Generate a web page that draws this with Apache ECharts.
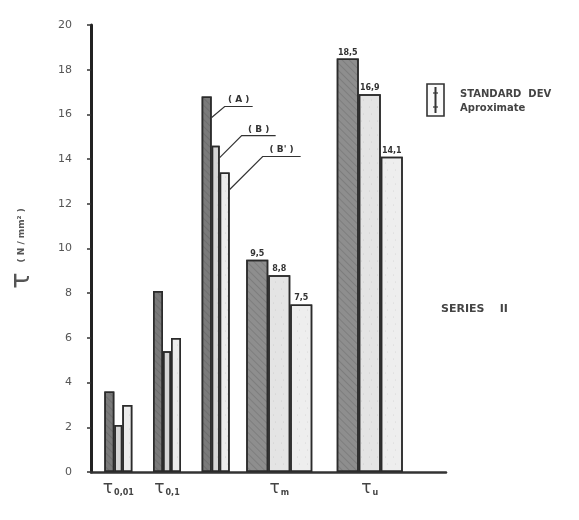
<!DOCTYPE html>
<html>
<head>
<meta charset="utf-8">
<script src="https://cdn.jsdelivr.net/npm/echarts@6/dist/echarts.min.js"></script>
<style>
  html, body { margin: 0; padding: 0; background: #fff; }
  #chart { width: 579px; height: 520px; }
</style>
</head>
<body>
<div id="chart"></div>
<script>
// Shear strength groups (left block: narrow bars, right block: wide bars)
const narrowCats = ['0,01', '0,1', ''];
const wideCats = ['m', 'u'];
const yTicks = [0, 2, 4, 6, 8, 10, 12, 14, 16, 18, 20];

// Series A (hatched), B, B' for each block
const narrowA = [3.6, 8.1, 16.8];
const narrowB = [2.1, 5.4, 14.6];
const narrowBp = [3.0, 6.0, 13.4];
const wideA = [9.5, 18.5];
const wideB = [8.8, 16.9];
const wideBp = [7.5, 14.1];

// Callout names for the third narrow group
const calloutNames = ['( A )', '( B )', '( B\' )'];

const FONT = 'DejaVu Sans';
const INK = '#2b2b2b';

const chart = echarts.init(document.getElementById('chart'));

const hatch = {
  symbol: 'rect',
  dashArrayX: [1, 0],
  dashArrayY: [1, 3.5],
  rotation: Math.PI / 4,
  color: 'rgba(50,50,50,0.18)'
};
const speckle = {
  symbol: 'circle',
  symbolSize: 0.35,
  dashArrayX: [[3, 5], [0, 2, 3, 3]],
  dashArrayY: [4, 3],
  color: 'rgba(140,140,140,0.3)'
};

const commaFmt = p => String(p.value).replace('.', ',');
const catLabel = v => v === '' ? '' : '{t|τ}{s|' + v + '}';
const catRich = {
  t: { fontFamily: FONT, fontSize: 17, color: '#444', verticalAlign: 'bottom' },
  s: { fontFamily: FONT, fontSize: 8, fontWeight: 'bold', color: '#444', padding: [9, 0, 0, 1], verticalAlign: 'bottom' }
};

function barSeries(name, data, axisIdx, width, color, decal, withLabels) {
  return {
    name: name,
    type: 'bar',
    xAxisIndex: axisIdx,
    yAxisIndex: axisIdx,
    data: data,
    barWidth: width,
    barGap: '0%',
    itemStyle: { color: color, borderColor: INK, borderWidth: 1.5, decal: decal },
    label: withLabels ? {
      show: true, position: 'top', distance: 2,
      fontFamily: FONT, fontSize: 8, fontWeight: 'bold', color: '#333',
      formatter: commaFmt
    } : { show: false },
    emphasis: { disabled: true },
    silent: true
  };
}

const gTop = 25, gBottom = 48;

const option = {
  animation: false,
  backgroundColor: '#ffffff',
  grid: [
    { left: 89, right: 133, top: gTop, bottom: gBottom },
    { left: 94, width: 146, top: gTop, bottom: gBottom },
    { left: 234, width: 181, top: gTop, bottom: gBottom }
  ],
  xAxis: [
    {
      gridIndex: 0, type: 'value', min: 0, max: 1,
      axisLine: { show: true, lineStyle: { color: '#333', width: 2.5 } },
      axisTick: { show: false }, axisLabel: { show: false }, splitLine: { show: false }
    },
    {
      gridIndex: 1, type: 'category', data: narrowCats,
      axisLine: { show: false }, axisTick: { show: false }, splitLine: { show: false },
      axisLabel: { margin: 8, formatter: catLabel, rich: catRich, interval: 0 }
    },
    {
      gridIndex: 2, type: 'category', data: wideCats,
      axisLine: { show: false }, axisTick: { show: false }, splitLine: { show: false },
      axisLabel: { margin: 8, formatter: catLabel, rich: catRich, interval: 0 }
    }
  ],
  yAxis: [
    {
      gridIndex: 0, type: 'value', min: yTicks[0], max: yTicks[yTicks.length - 1],
      interval: yTicks[1] - yTicks[0],
      axisLine: { show: true, lineStyle: { color: '#222', width: 3 } },
      axisTick: { show: true, length: 4, lineStyle: { color: '#333', width: 1.5 } },
      splitLine: { show: false },
      axisLabel: { margin: 19, fontFamily: FONT, fontSize: 11, color: '#555' },
      name: '{t|τ}   {u|( N / mm² )}',
      nameLocation: 'middle',
      nameRotate: 90,
      nameGap: 56,
      nameTextStyle: {
        rich: {
          t: { fontFamily: FONT, fontSize: 27, color: '#555' },
          u: { fontFamily: FONT, fontSize: 9, fontWeight: 'bold', color: '#555' }
        }
      }
    },
    { gridIndex: 1, type: 'value', min: 0, max: 20, show: false },
    { gridIndex: 2, type: 'value', min: 0, max: 20, show: false }
  ],
  series: [
    barSeries('A', narrowA, 1, 10, '#7a7a7a', hatch, false),
    barSeries('B', narrowB, 1, 8, '#d6d6d6', speckle, false),
    barSeries("B'", narrowBp, 1, 10, '#ececec', speckle, false),
    barSeries('A', wideA, 2, 22, '#8e8e8e', hatch, true),
    barSeries('B', wideB, 2, 22, '#e4e4e4', speckle, true),
    barSeries("B'", wideBp, 2, 22, '#eeeeee', speckle, true)
  ]
};

chart.setOption(option);

// Callout leaders for the third narrow group: start below bar top, rise to an underline
const calloutStyle = [
  { startDy: 21, elbowDx: 13, elbowDy: 10, len: 28 },
  { startDy: 12, elbowDx: 22, elbowDy: -10, len: 34 },
  { startDy: 17, elbowDx: 33, elbowDy: -16, len: 38 }
];

const graphics = [];
const model = chart.getModel();
[0, 1, 2].forEach(function (si) {
  const lay = model.getSeriesByIndex(si).getData().getItemLayout(2);
  const right = lay.x + lay.width;
  const top = Math.min(lay.y, lay.y + lay.height);
  const st = calloutStyle[si];
  const ex = right + st.elbowDx, ey = top + st.elbowDy;
  graphics.push({
    type: 'polyline', silent: true,
    shape: { points: [[right, top + st.startDy], [ex, ey], [ex + st.len, ey]] },
    style: { stroke: '#333', lineWidth: 1.2, fill: null }
  });
  graphics.push({
    type: 'text', silent: true,
    x: ex + st.len / 2, y: ey - 2,
    style: {
      text: calloutNames[si], fontFamily: FONT, fontSize: 9, fontWeight: 'bold',
      fill: '#333', align: 'center', verticalAlign: 'bottom'
    }
  });
});

// Legend: bar outline with a deviation whisker, and its caption
graphics.push({
  type: 'group', silent: true, x: 427, y: 84,
  children: [
    { type: 'rect', shape: { x: 0, y: 0, width: 17, height: 32 },
      style: { fill: '#fafafa', stroke: '#333', lineWidth: 1.6 } },
    { type: 'line', shape: { x1: 8.5, y1: 3, x2: 8.5, y2: 29 }, style: { stroke: '#333', lineWidth: 2 } },
    { type: 'line', shape: { x1: 6, y1: 9, x2: 11, y2: 9 }, style: { stroke: '#333', lineWidth: 1.2 } },
    { type: 'line', shape: { x1: 6, y1: 23, x2: 11, y2: 23 }, style: { stroke: '#333', lineWidth: 1.2 } }
  ]
});
graphics.push({
  type: 'text', silent: true, x: 460, y: 94,
  style: { text: 'STANDARD  DEV', fontFamily: FONT, fontSize: 10, fontWeight: 'bold', fill: '#444', verticalAlign: 'middle' }
});
graphics.push({
  type: 'text', silent: true, x: 460, y: 108,
  style: { text: 'Aproximate', fontFamily: FONT, fontSize: 10, fontWeight: 'bold', fill: '#444', verticalAlign: 'middle' }
});
graphics.push({
  type: 'text', silent: true, x: 441, y: 309,
  style: { text: 'SERIES    II', fontFamily: FONT, fontSize: 11, fontWeight: 'bold', fill: '#444', verticalAlign: 'middle' }
});

chart.setOption({ graphic: graphics });
</script>
</body>
</html>
